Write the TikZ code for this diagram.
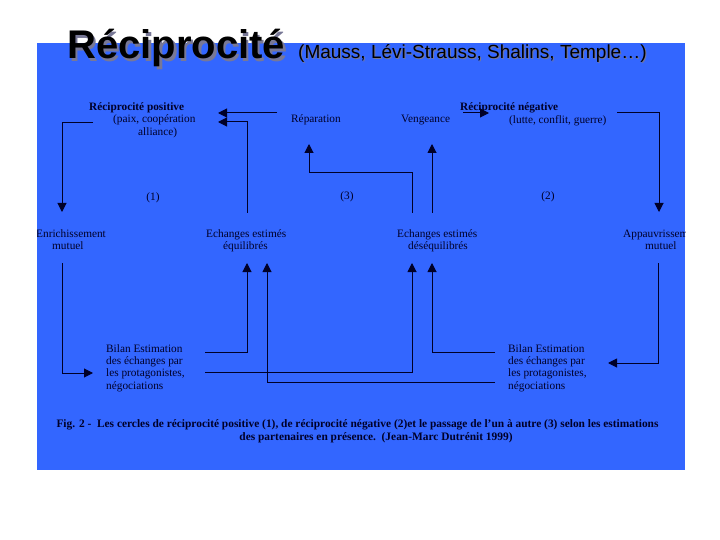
\documentclass[tikz,border=0pt]{standalone}
\usepackage{fontspec}
\setmainfont{Liberation Serif}
\newfontfamily\arialf{Liberation Sans}
\usetikzlibrary{arrows.meta}
\definecolor{bgblue}{RGB}{51,102,255}
\definecolor{ink}{RGB}{0,0,40}
\definecolor{shad}{RGB}{120,120,150}
\begin{document}
\begin{tikzpicture}[x=1pt,y=-1pt,
  lbl/.style={anchor=base west,inner sep=0pt,text=ink,font=\fontsize{11.3}{13}\selectfont},
  lblb/.style={lbl,font=\fontsize{11.3}{13}\selectfont\bfseries},
  cnum/.style={anchor=base,inner sep=0pt,text=ink,font=\fontsize{11.3}{13}\selectfont},
  capt/.style={anchor=base,inner sep=0pt,text=ink,font=\fontsize{11.4}{13}\selectfont\bfseries},
  conn/.style={draw=ink,line width=1pt},
  arr/.style={conn,-{Triangle[length=9pt,width=9pt]}}]
\useasboundingbox (0,0) rectangle (720,540);
\fill[white] (0,0) rectangle (720,540);
\fill[bgblue] (37,43) rectangle (685,470);

% title
\node[anchor=base west,inner sep=0pt,text=shad,font=\arialf\bfseries\fontsize{40}{44}\selectfont] (titsh) at (69.5,61.5) {Réciprocité};
\node[anchor=base west,inner sep=0pt,text=black,font=\arialf\bfseries\fontsize{40}{44}\selectfont] (tit) at (67,59) {Réciprocité};
\node[anchor=base west,inner sep=0pt,text=shad,font=\arialf\fontsize{19}{22}\selectfont] (subsh) at (299,60) {(Mauss, Lévi-Strauss, Shalins, Temple…)};
\node[anchor=base west,inner sep=0pt,text=black,font=\arialf\fontsize{19}{22}\selectfont] (sub) at (298,59) {(Mauss, Lévi-Strauss, Shalins, Temple…)};

% top labels
\node[lblb] (rp) at (89,110.5) {Réciprocité positive};
\node[lbl] (paix) at (113,122.5) {(paix, coopération};
\node[lbl] (alli) at (138,136) {alliance)};
\node[lbl] (rep) at (291,122.5) {Réparation};
\node[lbl] (ven) at (401,122.5) {Vengeance};
\node[lblb] (rn) at (460,110.5) {Réciprocité négative};
\node[lbl] (lutte) at (509,123.5) {(lutte, conflit, guerre)};

% numbers
\node[cnum] (n1) at (153,200.5) {(1)};
\node[cnum] (n3) at (347,199.5) {(3)};
\node[cnum] (n2) at (548,199.5) {(2)};

% middle labels
\begin{scope}
\clip (37,43) rectangle (685,470);
\node[lbl] (enr) at (36,237.5) {Enrichissement};
\node[lbl] (mut1) at (52,249.5) {mutuel};
\node[lbl] (app) at (623,237.5) {Appauvrissement};
\node[lbl] (mut2) at (645,249.5) {mutuel};
\end{scope}
\node[lbl] (eq1) at (206,237.5) {Echanges estimés};
\node[lbl] (eq2) at (223,249.5) {équilibrés};
\node[lbl] (de1) at (397,237.5) {Echanges estimés};
\node[lbl] (de2) at (408,249.5) {déséquilibrés};

% bilan
\node[lbl] (bl1) at (106,352.5) {Bilan Estimation};
\node[lbl] (bl2) at (106,364.7) {des échanges par};
\node[lbl] (bl3) at (106,376.9) {les protagonistes,};
\node[lbl] (bl4) at (106,389.1) {négociations};
\node[lbl] (br1) at (508,352.5) {Bilan Estimation};
\node[lbl] (br2) at (508,364.7) {des échanges par};
\node[lbl] (br3) at (508,376.9) {les protagonistes,};
\node[lbl] (br4) at (508,389.1) {négociations};

% caption
\node[capt] (cap1) at (357.5,427.5) {Fig. 2 -\ \ Les cercles de réciprocité positive (1), de réciprocité négative (2)et le passage de l’un à autre (3) selon les estimations};
\node[capt] (cap2) at (376,440.5) {des partenaires en présence.\ \ (Jean-Marc Dutrénit 1999)};

% connector end points
\coordinate (a1s) at (93,123);   \coordinate (a1k) at (62,123);   \coordinate (a1e) at (62,212);
\coordinate (a2s) at (277,113);  \coordinate (a2e) at (218,113);
\coordinate (a3s) at (247,213);  \coordinate (a3k) at (247,122);  \coordinate (a3e) at (218,122);
\coordinate (a4s) at (412,213);  \coordinate (a4k) at (412,173);  \coordinate (a4l) at (309,173); \coordinate (a4e) at (309,144);
\coordinate (a5s) at (432,213);  \coordinate (a5e) at (432,144);
\coordinate (a6s) at (463,113);  \coordinate (a6e) at (489,113);
\coordinate (a7s) at (617,113);  \coordinate (a7k) at (659,113);  \coordinate (a7e) at (659,212);
\coordinate (a8s) at (62,263);   \coordinate (a8k) at (62,373);   \coordinate (a8e) at (93,373);
\coordinate (a9s) at (205,352);  \coordinate (a9k) at (247,352);  \coordinate (a9e) at (247,263);
\coordinate (a10s) at (205,372); \coordinate (a10k) at (412,372); \coordinate (a10e) at (412,263);
\coordinate (a11s) at (495,382); \coordinate (a11k) at (267,382); \coordinate (a11e) at (267,263);
\coordinate (a12s) at (495,352); \coordinate (a12k) at (432,352); \coordinate (a12e) at (432,263);
\coordinate (a13s) at (658,263); \coordinate (a13k) at (658,363); \coordinate (a13e) at (608,363);

\draw[arr] (a1s) -- (a1k) -- (a1e);
\draw[arr] (a2s) -- (a2e);
\draw[arr] (a3s) -- (a3k) -- (a3e);
\draw[arr] (a4s) -- (a4k) -- (a4l) -- (a4e);
\draw[arr] (a5s) -- (a5e);
\draw[arr] (a6s) -- (a6e);
\draw[arr] (a7s) -- (a7k) -- (a7e);
\draw[arr] (a8s) -- (a8k) -- (a8e);
\draw[arr] (a9s) -- (a9k) -- (a9e);
\draw[arr] (a10s) -- (a10k) -- (a10e);
\draw[arr] (a11s) -- (a11k) -- (a11e);
\draw[arr] (a12s) -- (a12k) -- (a12e);
\draw[arr] (a13s) -- (a13k) -- (a13e);
\end{tikzpicture}
\end{document}
